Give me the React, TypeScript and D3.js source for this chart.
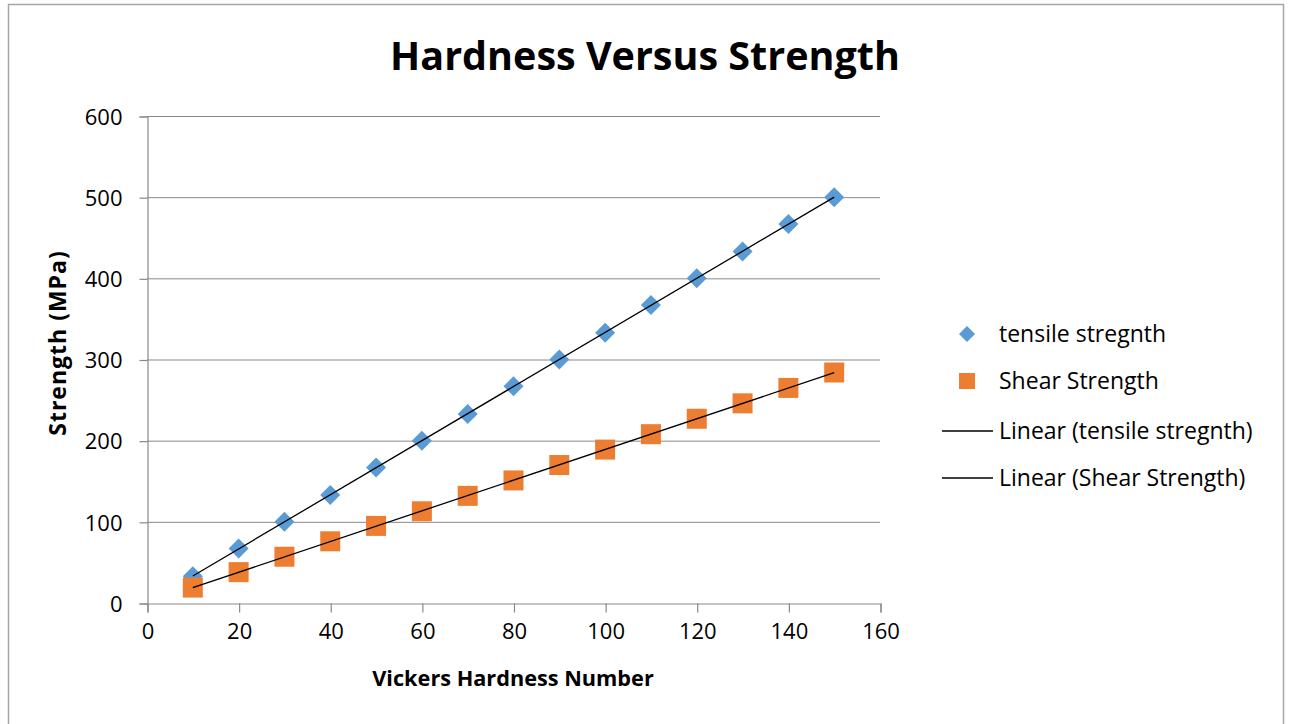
import React, { useEffect, useRef } from 'react';
import * as d3 from 'd3';

// values
const hardness = [10, 20, 30, 40, 50, 60, 70, 80, 90, 100, 110, 120, 130, 140, 150];
const tensile = [33, 67, 100, 133, 167, 200, 233, 267, 300, 333, 367, 400, 433, 467, 500];
const shear = [19, 38, 57, 76, 95, 113, 132, 151, 170, 189, 208, 227, 246, 265, 284];
const xTicks = [0, 20, 40, 60, 80, 100, 120, 140, 160];
const yTicks = [0, 100, 200, 300, 400, 500, 600];
const legendItems = ['tensile stregnth', 'Shear Strength', 'Linear (tensile stregnth)', 'Linear (Shear Strength)'];

const FONT = '"Open Sans", Lato, sans-serif';

// least squares fit, like the spreadsheet trendline
function fit(xs: number[], ys: number[]) {
    const mx = d3.mean(xs)!;
    const my = d3.mean(ys)!;
    const num = d3.sum(xs, (x, i) => (x - mx) * (ys[i] - my));
    const den = d3.sum(xs, x => (x - mx) * (x - mx));
    const slope = num / den;
    return (x: number) => my + slope * (x - mx);
}

const App = () => {
    const ref = useRef<SVGSVGElement>(null);

    useEffect(() => {
        const svg = d3.select(ref.current);
        svg.selectAll('*').remove();

        const x = d3.scaleLinear().domain([0, 160]).range([147, 880]);
        const y = d3.scaleLinear().domain([0, 600]).range([603, 116]);

        //  outer frame
        svg.append('rect')
            .attr('x', 8.5).attr('y', 4.5).attr('width', 1275).attr('height', 740)
            .attr('fill', 'white').attr('stroke', '#a6a6a6').attr('stroke-width', 1.5);

        //  title
        svg.append('text')
            .attr('x', 645).attr('y', 70)
            .attr('text-anchor', 'middle')
            .attr('font-family', FONT).attr('font-weight', 'bold').attr('font-size', 39.5)
            .text('Hardness Versus Strength');

        //  gridlines
        svg.append('g').selectAll('line')
            .data(yTicks.slice(1)).enter()
            .append('line')
            .attr('x1', x(0)).attr('x2', x(160))
            .attr('y1', d => y(d) + 0.5).attr('y2', d => y(d) + 0.5)
            .attr('stroke', '#898989').attr('stroke-width', 1);

        //  y axis
        const yAxis = svg.append('g')
            .attr('transform', 'translate(' + (x(0) + 0.5) + ',0.5)')
            .call(d3.axisLeft(y).tickValues(yTicks).tickSize(8).tickPadding(17));
        //  x axis
        const xAxis = svg.append('g')
            .attr('transform', 'translate(0.5,' + (y(0) + 0.5) + ')')
            .call(d3.axisBottom(x).tickValues(xTicks).tickSize(9).tickPadding(11));

        [yAxis, xAxis].forEach(a => {
            a.select('.domain').attr('stroke', '#898989').attr('stroke-width', 1.2);
            a.selectAll('.tick line').attr('stroke', '#898989').attr('stroke-width', 1.2);
            a.selectAll('.tick text')
                .attr('font-family', FONT).attr('font-size', 22).attr('fill', '#000');
        });
        yAxis.selectAll('.tick text').attr('dy', '0.35em');

        //  axis titles
        svg.append('text')
            .attr('x', 513).attr('y', 686)
            .attr('text-anchor', 'middle')
            .attr('font-family', FONT).attr('font-weight', 'bold').attr('font-size', 21.7)
            .text('Vickers Hardness Number');
        svg.append('text')
            .attr('transform', 'translate(66,343) rotate(-90)')
            .attr('text-anchor', 'middle')
            .attr('font-family', FONT).attr('font-weight', 'bold').attr('font-size', 23)
            .attr('letter-spacing', 1)
            .text('Strength (MPa)');

        //  markers
        const diamond = 'M0,-10L10,0L0,10L-10,0Z';
        svg.append('g').selectAll('path')
            .data(hardness).enter()
            .append('path')
            .attr('d', diamond)
            .attr('transform', (d, i) => 'translate(' + x(d) + ',' + y(tensile[i]) + ')')
            .attr('fill', '#5b9bd5');

        svg.append('g').selectAll('rect')
            .data(hardness).enter()
            .append('rect')
            .attr('x', d => x(d) - 10).attr('y', (d, i) => y(shear[i]) - 10)
            .attr('width', 20).attr('height', 20)
            .attr('fill', '#ed7d31');

        //  trendlines
        [tensile, shear].forEach(series => {
            const f = fit(hardness, series);
            const line = d3.line<number>().x(d => x(d)).y(d => y(f(d)));
            svg.append('path')
                .attr('d', line([hardness[0], hardness[hardness.length - 1]]))
                .attr('fill', 'none').attr('stroke', '#000').attr('stroke-width', 1.3);
        });

        //  legend
        const legendY = [334, 381, 431, 478];
        const lg = svg.append('g');
        lg.append('path').attr('d', 'M0,-8L8,0L0,8L-8,0Z')
            .attr('transform', 'translate(967,' + legendY[0] + ')').attr('fill', '#5b9bd5');
        lg.append('rect').attr('x', 959).attr('y', legendY[1] - 8).attr('width', 16).attr('height', 16)
            .attr('fill', '#ed7d31');
        [2, 3].forEach(i => {
            lg.append('line').attr('x1', 942).attr('x2', 993)
                .attr('y1', legendY[i]).attr('y2', legendY[i])
                .attr('stroke', '#000').attr('stroke-width', 1.3);
        });
        lg.selectAll('text')
            .data(legendItems).enter()
            .append('text')
            .attr('x', 999).attr('y', (d, i) => legendY[i])
            .attr('dy', '0.35em')
            .attr('font-family', FONT).attr('font-size', 23)
            .text(d => d);
    }, []);

    return (
        <svg ref={ref} width={1291} height={724}
            style={{ position: 'absolute', left: 0, top: 0, background: 'white' }} />
    );
};

export default App;
